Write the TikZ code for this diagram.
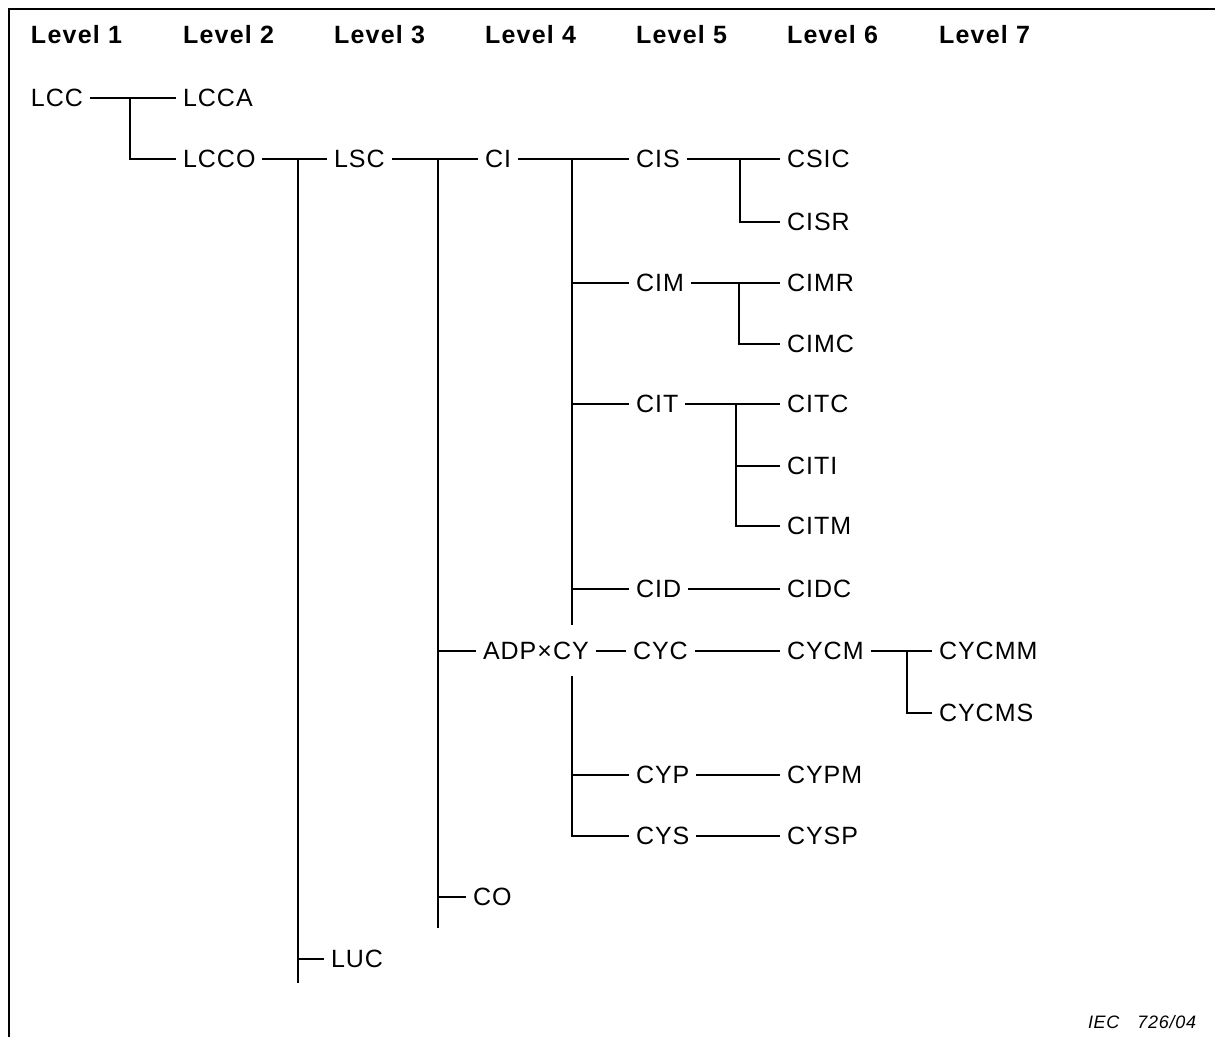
\documentclass[tikz,border=0pt]{standalone}
\usepackage{fontspec}
\setmainfont{Liberation Sans}
\newfontfamily\itmfamily{Liberation Sans}[LetterSpace=4]
\newfontfamily\lvlfamily{Liberation Sans}[LetterSpace=5]
\newcommand\itmfont{\itmfamily\fontsize{12.5}{15}\selectfont}
\newcommand\lvlfont{\lvlfamily\fontsize{12.5}{15}\selectfont\bfseries}
\newcommand\notefont{\itmfamily\fontsize{9}{11}\selectfont\itshape}
\usepackage{tikz}

\begin{document}
\begin{tikzpicture}[x=0.5pt,y=-0.5pt,line width=1pt,
  item node/.style={anchor=west,inner xsep=3pt,inner ysep=2pt,xshift=-3pt,font=\itmfont},
  level node/.style={anchor=west,inner sep=0pt,font=\lvlfont}]

  \useasboundingbox (0,0) rectangle (1215,1037);
  \draw (1215,9) -- (9,9) -- (9,1037);

  % level headings
  \foreach \lv/\x in {1/30,2/182,3/333,4/484,5/635,6/786,7/938}
    \node[level node] (level\lv) at (\x,35) {Level \lv};

  % items
  \node[item node] (lcc) at (30,98) {LCC};
  \node[item node] (lcca) at (182,98) {LCCA};
  \node[item node] (lcco) at (182,159) {LCCO};
  \node[item node] (lsc) at (333,159) {LSC};
  \node[item node] (luc) at (330,959) {LUC};
  \node[item node] (ci) at (484,159) {CI};
  \node[item node] (adpcy) at (482,651) {ADP×CY};
  \node[item node] (co) at (472,897) {CO};
  \node[item node] (cis) at (635,159) {CIS};
  \node[item node] (cim) at (635,283) {CIM};
  \node[item node] (cit) at (635,404) {CIT};
  \node[item node] (cid) at (635,589) {CID};
  \node[item node] (csic) at (786,159) {CSIC};
  \node[item node] (cisr) at (786,222) {CISR};
  \node[item node] (cimr) at (786,283) {CIMR};
  \node[item node] (cimc) at (786,344) {CIMC};
  \node[item node] (citc) at (786,404) {CITC};
  \node[item node] (citi) at (786,466) {CITI};
  \node[item node] (citm) at (786,526) {CITM};
  \node[item node] (cidc) at (786,589) {CIDC};
  \node[item node] (cyc) at (632,651) {CYC};
  \node[item node] (cycm) at (786,651) {CYCM};
  \node[item node] (cycmm) at (938,651) {CYCMM};
  \node[item node] (cycms) at (938,713) {CYCMS};
  \node[item node] (cyp) at (635,775) {CYP};
  \node[item node] (cypm) at (786,775) {CYPM};
  \node[item node] (cys) at (635,836) {CYS};
  \node[item node] (cysp) at (786,836) {CYSP};

  \node[anchor=west,inner sep=0pt,font=\notefont] (figno) at (1087,1022) {IEC\quad 726/04};

  % branch points
  \coordinate (j-lcc) at (130,98);
  \coordinate (j-lcco) at (298,159);
  \coordinate (e-lcco) at (298,983);
  \coordinate (j-lsc) at (438,159);
  \coordinate (e-lsc) at (438,928);
  \coordinate (j-ci) at (572,159);
  \coordinate (e-ci) at (572,625);
  \coordinate (j-adp) at (572,676);
  \coordinate (j-cis) at (740,159);
  \coordinate (j-cim) at (739,283);
  \coordinate (j-cit) at (736,404);
  \coordinate (j-cycm) at (907,651);

  \path
  (lcc) edge (lcca)
  (lcco) edge (lsc)
  (lsc) edge (ci)
  (ci) edge (cis)
  (cis) edge (csic)
  (cim) edge (cimr)
  (cit) edge (citc)
  (cid) edge (cidc)
  (adpcy) edge (cyc)
  (cyc) edge (cycm)
  (cycm) edge (cycmm)
  (cyp) edge (cypm)
  (cys) edge (cysp);

  \draw (j-lcc) |- (lcco);
  \draw (j-lcco) -- (e-lcco) (j-lcco |- luc) -- (luc);
  \draw (j-lsc) -- (e-lsc) (j-lsc |- adpcy) -- (adpcy) (j-lsc |- co) -- (co);
  \draw (j-ci) -- (e-ci) (j-ci |- cim) -- (cim) (j-ci |- cit) -- (cit)
    (j-ci |- cid) -- (cid);
  \draw (j-adp) |- (cys) (j-adp |- cyp) -- (cyp);
  \draw (j-cis) |- (cisr);
  \draw (j-cim) |- (cimc);
  \draw (j-cit) |- (citm) (j-cit |- citi) -- (citi);
  \draw (j-cycm) |- (cycms);
\end{tikzpicture}
\end{document}
